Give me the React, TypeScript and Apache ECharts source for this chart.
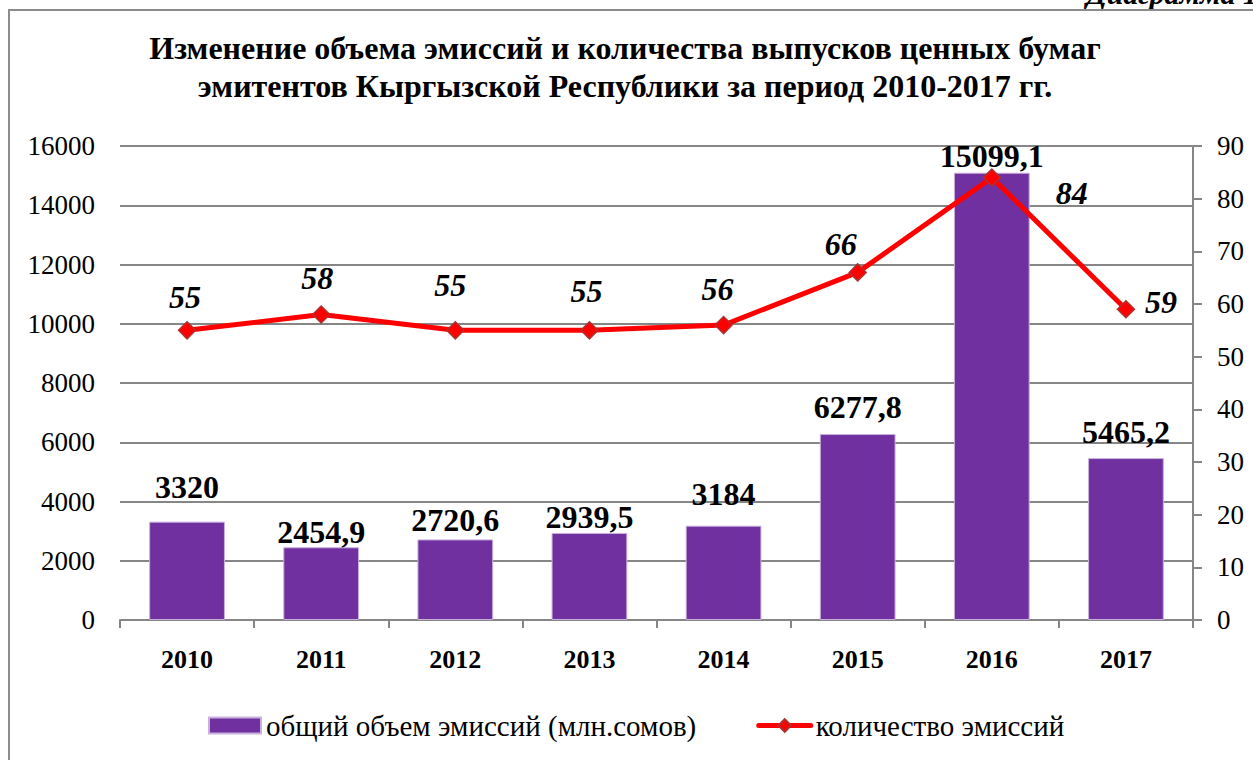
import React, { useEffect, useRef } from "react";
import * as echarts from "echarts";

const years = ["2010", "2011", "2012", "2013", "2014", "2015", "2016", "2017"];
const volumes = [3320, 2454.9, 2720.6, 2939.5, 3184, 6277.8, 15099.1, 5465.2];
const counts = [55, 58, 55, 55, 56, 66, 84, 59];
const volumeLabels = ["3320", "2454,9", "2720,6", "2939,5", "3184", "6277,8", "15099,1", "5465,2"];
const leftTicks = [0, 2000, 4000, 6000, 8000, 10000, 12000, 14000, 16000];
const rightTicks = [0, 10, 20, 30, 40, 50, 60, 70, 80, 90];

// label placement styles (not data)
const barLabelLift = [19, -1, 3, 0, 16, 11, 1, 10];
const lineLabelOffsets: [number, number][] = [
  [-2, -33], [-4, -37], [-5, -45], [-3, -39], [-6, -36], [-17, -28], [80, 15], [35, -7],
];

const FONT = "Liberation Serif";

export default function App() {
  const ref = useRef<HTMLDivElement>(null);
  useEffect(() => {
    if (!ref.current) return;
    const chart = echarts.init(ref.current, null, { renderer: "svg" });
    const option = {
      animation: false,
      backgroundColor: "#ffffff",
      textStyle: { fontFamily: FONT },
      title: {
        text: "Изменение объема эмиссий и количества выпусков ценных бумаг\nэмитентов Кыргызской Республики за период 2010-2017 гг.",
        left: 620,
        top: 24,
        textAlign: "center",
        textStyle: {
          fontFamily: FONT,
          fontWeight: "bold",
          fontSize: 32,
          lineHeight: 38,
          color: "#000",
        },
      },
      graphic: [
        {
          type: "rect",
          shape: { x: 9, y: 10, width: 1300, height: 800 },
          style: { fill: "none", stroke: "#8c8c8c", lineWidth: 2 },
          z: 100,
        },
        {
          type: "text",
          x: 1258,
          y: 8,
          style: {
            text: "Диаграмма 1",
            fontFamily: FONT,
            fontStyle: "italic",
            fontWeight: "bold",
            fontSize: 30,
            fill: "#000",
            textAlign: "right",
            textVerticalAlign: "bottom",
          },
          z: 90,
        },
      ],
      legend: {
        left: 208,
        top: 711,
        padding: 0,
        itemWidth: 52,
        itemHeight: 16,
        itemGap: 60,
        textStyle: { fontFamily: FONT, fontSize: 29, color: "#000" },
        data: [
          { name: "общий объем эмиссий (млн.сомов)", icon: "rect" },
          {
            name: "количество эмиссий",
            lineStyle: { width: 5, color: "#FF0000", cap: "round" },
          },
        ],
      },
      grid: { left: 120, right: 60, top: 146, bottom: 140 },
      xAxis: {
        type: "category",
        data: years,
        boundaryGap: true,
        axisLine: { show: true, lineStyle: { color: "#868686", width: 2 } },
        axisTick: { show: true, length: 8, alignWithLabel: false, lineStyle: { color: "#868686", width: 2 } },
        axisLabel: { fontFamily: FONT, fontWeight: "bold", fontSize: 26, color: "#000", margin: 26 },
      },
      yAxis: [
        {
          type: "value",
          min: leftTicks[0],
          max: leftTicks[leftTicks.length - 1],
          interval: leftTicks[1] - leftTicks[0],
          axisLine: { show: false },
          axisTick: { show: false },
          splitLine: { show: true, lineStyle: { color: "#868686", width: 2 } },
          axisLabel: {
            fontFamily: FONT,
            fontSize: 27,
            color: "#000",
            margin: 25,
            formatter: (v: number) => String(v),
          },
        },
        {
          type: "value",
          position: "right",
          min: rightTicks[0],
          max: rightTicks[rightTicks.length - 1],
          interval: rightTicks[1] - rightTicks[0],
          axisLine: { show: true, lineStyle: { color: "#868686", width: 2 } },
          axisTick: { show: true, length: 9, inside: false, lineStyle: { color: "#868686", width: 2 } },
          splitLine: { show: false },
          axisLabel: {
            fontFamily: FONT,
            fontSize: 27,
            color: "#000",
            margin: 24,
            formatter: (v: number) => String(v),
          },
        },
      ],
      series: [
        {
          name: "общий объем эмиссий (млн.сомов)",
          type: "bar",
          yAxisIndex: 0,
          barWidth: "56.5%",
          itemStyle: { color: "#7030A0", borderColor: "#c8b2dc", borderWidth: 1 },
          data: volumes.map((v, i) => ({
            value: v,
            label: {
              show: true,
              position: "top",
              distance: 0,
              offset: [0, -barLabelLift[i]],
              formatter: volumeLabels[i],
              fontFamily: FONT,
              fontWeight: "bold",
              fontSize: 32,
              color: "#000",
            },
          })),
          z: 2,
        },
        {
          name: "количество эмиссий",
          type: "line",
          yAxisIndex: 1,
          symbol: "diamond",
          symbolSize: 17,
          lineStyle: { color: "#FF0000", width: 5 },
          itemStyle: { color: "#FF0000", borderColor: "#b03030", borderWidth: 1.5 },
          data: counts.map((v, i) => ({
            value: v,
            label: {
              show: true,
              position: "inside",
              offset: lineLabelOffsets[i],
              formatter: String(v),
              fontFamily: FONT,
              fontWeight: "bold",
              fontStyle: "italic",
              fontSize: 32,
              color: "#000",
            },
          })),
          z: 5,
        },
      ],
    };
    chart.setOption(option as any);
    return () => chart.dispose();
  }, []);
  return (
    <div
      ref={ref}
      style={{ position: "fixed", left: 0, top: 0, width: 1253, height: 760 }}
    />
  );
}
